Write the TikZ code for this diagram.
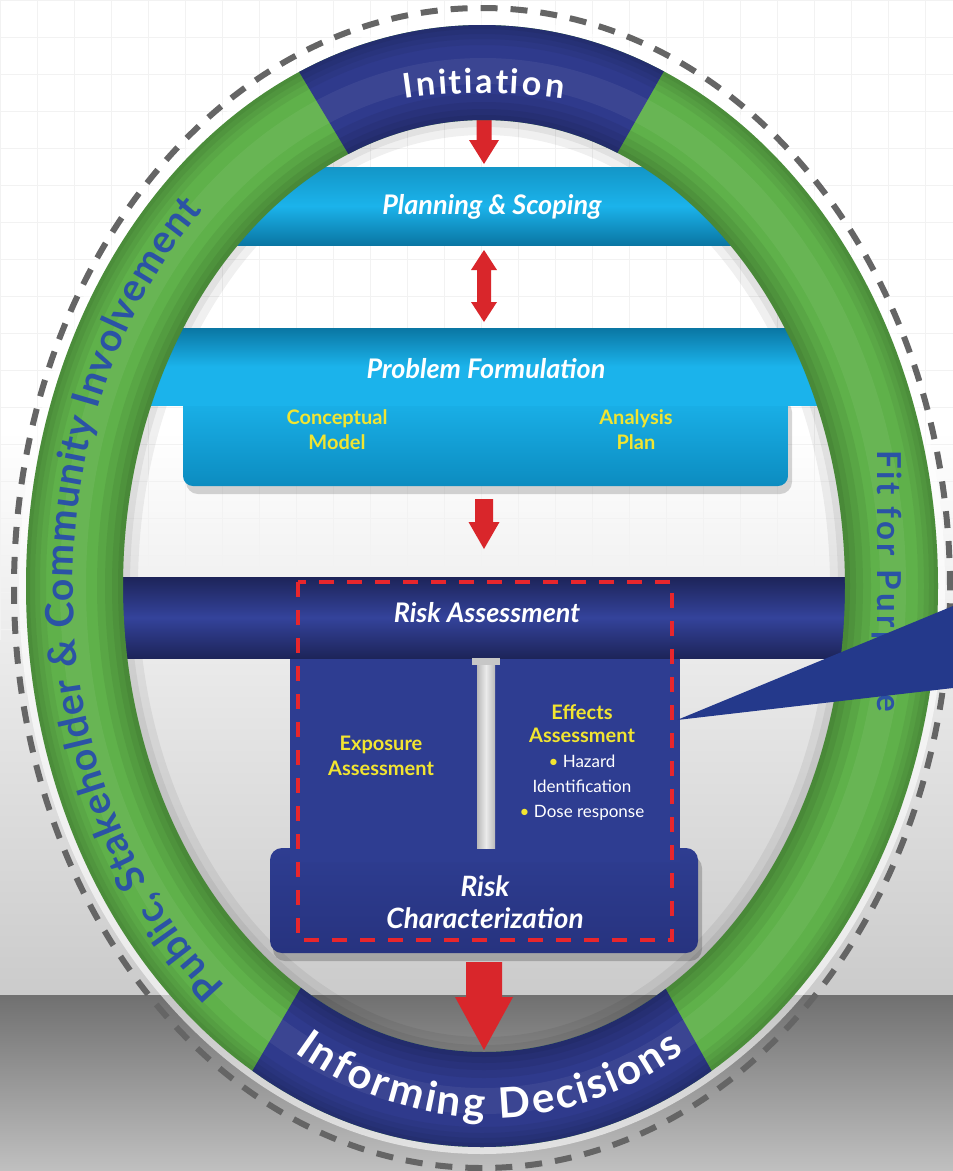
\documentclass[tikz,border=0pt]{standalone}
\usepackage{fontspec}
\setmainfont{Lato}
\usetikzlibrary{decorations.text,calc}
\definecolor{ringgreen}{HTML}{5FB14A}
\definecolor{ringblue}{HTML}{2F3A8C}
\definecolor{navybody}{HTML}{2E3D91}
\definecolor{navylow}{HTML}{27337F}
\definecolor{navydark}{HTML}{1D2459}
\definecolor{navymid}{HTML}{34439B}
\definecolor{cyanmid}{HTML}{1BB3EB}
\definecolor{cyandark}{HTML}{0A76A3}
\definecolor{cyantop}{HTML}{1396C7}
\definecolor{cyanlow}{HTML}{0C8CC0}
\definecolor{arrowred}{HTML}{D9262B}
\definecolor{dashred}{HTML}{E8262C}
\definecolor{txtyellow}{HTML}{F2E530}
\definecolor{ringtext}{HTML}{2B53A5}
\definecolor{dashgray}{HTML}{656565}
\definecolor{callout}{HTML}{24398B}
\definecolor{bglow}{HTML}{CBCBCB}
\definecolor{floortop}{HTML}{707070}
\definecolor{floorbot}{HTML}{C0C0C0}
\definecolor{gapgray}{HTML}{B9B9B9}

\newcommand\fbandtitle{\bfseries\itshape\fontsize{27}{32}\selectfont}
\newcommand\fyellowtxt{\bfseries\fontsize{20}{25}\selectfont}
\newcommand\feffects{\bfseries\fontsize{20}{23}\selectfont}
\newcommand\fbullettxt{\fontsize{17}{25}\selectfont}
\newcommand\friskchar{\bfseries\itshape\fontsize{28}{32}\selectfont}
\newcommand\fringA{\bfseries\fontsize{34}{34}\selectfont}
\newcommand\fringB{\bfseries\fontsize{42}{42}\selectfont}
\newcommand\fringC{\bfseries\fontsize{39}{39}\selectfont}
\newcommand\fringD{\bfseries\fontsize{33}{33}\selectfont}

% #1 start, #2 tip, #3 half shaft, #4 half head, #5 head length
\newcommand\blockarrow[5]{%
  \fill[arrowred] ($(#1)+(-#3,0)$) -- ($(#1)+(#3,0)$) -- ($(#2)+(#3,-#5)$)
   -- ($(#2)+(#4,-#5)$) -- (#2) -- ($(#2)+(-#4,-#5)$) -- ($(#2)+(-#3,-#5)$) -- cycle;}
% #1 top tip, #2 bottom tip
\newcommand\dblarrow[5]{%
  \fill[arrowred] (#1) -- ($(#1)+(#4,#5)$) -- ($(#1)+(#3,#5)$) -- ($(#2)+(#3,-#5)$)
   -- ($(#2)+(#4,-#5)$) -- (#2) -- ($(#2)+(-#4,-#5)$) -- ($(#2)+(-#3,-#5)$)
   -- ($(#1)+(-#3,#5)$) -- ($(#1)+(-#4,#5)$) -- cycle;}

\begin{document}
\begin{tikzpicture}[x=1pt, y=-1pt,
  bandtitle/.style={font=\fbandtitle, text=white, inner sep=0pt},
  yellowlbl/.style={font=\fyellowtxt, text=txtyellow, align=center, inner sep=0pt},
  bulletlbl/.style={font=\fbullettxt, text=white, align=center, inner sep=0pt}]
\useasboundingbox (0,0) rectangle (953,1171);

% ---------- background ----------
\fill[white] (0,0) rectangle (953,1171);
\shade[top color=white, bottom color=bglow] (0,430) rectangle (953,995);
\shade[top color=floortop, bottom color=floorbot] (0,995) rectangle (953,1171);
\foreach \gx in {0,37,...,953} \draw[black!5, line width=0.6pt] (\gx,0) -- (\gx,640);
\foreach \gy in {0,37,...,640} \draw[black!5, line width=0.6pt] (0,\gy) -- (953,\gy);

% glow and inner shadow of the ring
\draw[white, opacity=0.6, line width=14pt] (482,586) ellipse [x radius=456pt, y radius=561pt];
\draw[black, opacity=0.06, line width=30pt] (484,586) ellipse [x radius=361pt, y radius=466pt];
\draw[black, opacity=0.06, line width=14pt] (484,586) ellipse [x radius=361pt, y radius=466pt];

% ---------- Planning & Scoping ----------
\shade[top color=cyantop, bottom color=cyandark, middle color=cyanmid] (200,167) rectangle (765,245);
\node[bandtitle] (plan) at (492,207) {Planning \& Scoping};

% ---------- Problem Formulation ----------
\fill[black, opacity=0.16, rounded corners=12pt] (186,400) rectangle (792,494);
\shade[top color=cyanmid, bottom color=cyanlow, rounded corners=10pt] (183,395) rectangle (788,486);
\shade[top color=cyandark, bottom color=cyanmid, middle color=cyanmid] (110,328) rectangle (855,405);
\node[bandtitle] (prob) at (486,369) {Problem Formulation};
\node[yellowlbl] (concept) at (337,430) {Conceptual\\Model};
\node[yellowlbl] (anaplan) at (636,430) {Analysis\\Plan};

% ---------- Risk Assessment ----------
\fill[black, opacity=0.2, rounded corners=12pt] (273,856) rectangle (702,961);
\shade[top color=navybody, bottom color=navylow, rounded corners=12pt] (270,848) rectangle (698,953);
\fill[navybody] (290,650) rectangle (680,862);
\shade[top color=navydark, bottom color=navydark, middle color=navymid] (70,577) rectangle (895,658);
\shade[left color=gapgray, right color=gapgray, middle color=white!92!black] (477,660) rectangle (495,848);
\fill[gapgray!80] (472,658) rectangle (500,665);
\draw[dashred, line width=4.5pt, dash pattern=on 15pt off 13pt] (298,582) rectangle (672,940);
\node[bandtitle] (riskas) at (487,613) {Risk Assessment};
\node[yellowlbl] (expo) at (381,756) {Exposure\\Assessment};
\node[yellowlbl, font=\feffects] (effects) at (582,724) {Effects\\Assessment};
\node[bulletlbl] (bullets) at (582,788) {{\color{txtyellow}\textbullet}\ Hazard\\Identification\\{\color{txtyellow}\textbullet}\ Dose response};
\node[font=\friskchar, text=white, align=center, inner sep=0pt] (riskch) at (485,902) {Risk\\Characterization};

% ---------- red arrows ----------
\coordinate (initB) at (484,119);
\coordinate (planT) at (484,164);
\coordinate (planB) at (484,250);
\coordinate (probT) at (484,322);
\coordinate (probB) at (484,499);
\coordinate (riskT) at (484,549);
\coordinate (charB) at (484,962);
\coordinate (infoT) at (484,1050);
\blockarrow{initB}{planT}{7.5}{15}{24}
\dblarrow{planB}{probT}{7}{13}{20}
\blockarrow{probB}{riskT}{9}{15.5}{27}
\blockarrow{charB}{infoT}{18}{29}{53}

% ---------- ring ----------
\fill[ringgreen, even odd rule] (482,586) ellipse [x radius=456pt, y radius=561pt]
   (484,586) ellipse [x radius=361pt, y radius=466pt];
\begin{scope}
  \clip (244,-20) -- (716,-20) -- (579,220) -- (388,220) -- cycle;
  \fill[ringblue, even odd rule] (482,586) ellipse [x radius=456pt, y radius=561pt]
     (484,586) ellipse [x radius=361pt, y radius=466pt];
\end{scope}
\begin{scope}
  \clip (352,900) -- (616,900) -- (784,1200) -- (177,1200) -- cycle;
  \fill[ringblue, even odd rule] (482,586) ellipse [x radius=456pt, y radius=561pt]
     (484,586) ellipse [x radius=361pt, y radius=466pt];
\end{scope}
% tube shading of the ring
\begin{scope}
  \clip (482,586) ellipse [x radius=456pt, y radius=561pt];
  \foreach \w in {40,28,18,8}
    \draw[black, opacity=0.05, line width=\w pt] (482,586) ellipse [x radius=456pt, y radius=561pt];
\end{scope}
\foreach \w in {26,18,11,5}
  \draw[black, opacity=0.06, line width=\w pt] (484,586) ellipse [x radius={361+\w/2}, y radius={466+\w/2}];
\draw[white, opacity=0.06, line width=26pt] (483,586) ellipse [x radius=410pt, y radius=515pt];

% dashed outer line
\draw[dashgray, line width=6pt, dash pattern=on 17pt off 13pt] (482,588) ellipse [x radius=468pt, y radius=580pt];

% ---------- ring texts ----------
\path[decorate, decoration={text effects along path, text={Initiation},
   text effects/.cd, text along path, fit text to path,
   characters={text=white, font=\fringA}}]
  plot[domain=261.4:278.6, samples=25] ({484+530*cos(\x)},{586+493*sin(\x)});
\path[decorate, decoration={text effects along path, text={Informing Decisions},
   text effects/.cd, text along path, fit text to path,
   characters={text=white, font=\fringB}}]
  plot[domain=61.2:118.8, samples=40] ({490-405*cos(\x)},{586+532*sin(\x)});
\path[decorate, decoration={text effects along path, text={Public, Stakeholder {\&} Community Involvement},
   text effects/.cd, text along path, fit text to path,
   characters={text=ringtext, font=\fringC}}]
  plot[domain=128.9:226.8, samples=80] ({483+410*cos(\x)},{586+515*sin(\x)});
\coordinate (fitT) at (877,450);
\coordinate (fitB) at (877,712);
\path[decorate, decoration={text effects along path, text={Fit for Purpose},
   text effects/.cd, text along path, fit text to path,
   characters={text=ringtext, font=\fringD}}]
  (fitT) -- (fitB);

% ---------- callout wedge ----------
\coordinate (calltip) at (677,720);
\fill[callout] (calltip) -- (953,606) -- (953,688) -- cycle;
\end{tikzpicture}
\end{document}
